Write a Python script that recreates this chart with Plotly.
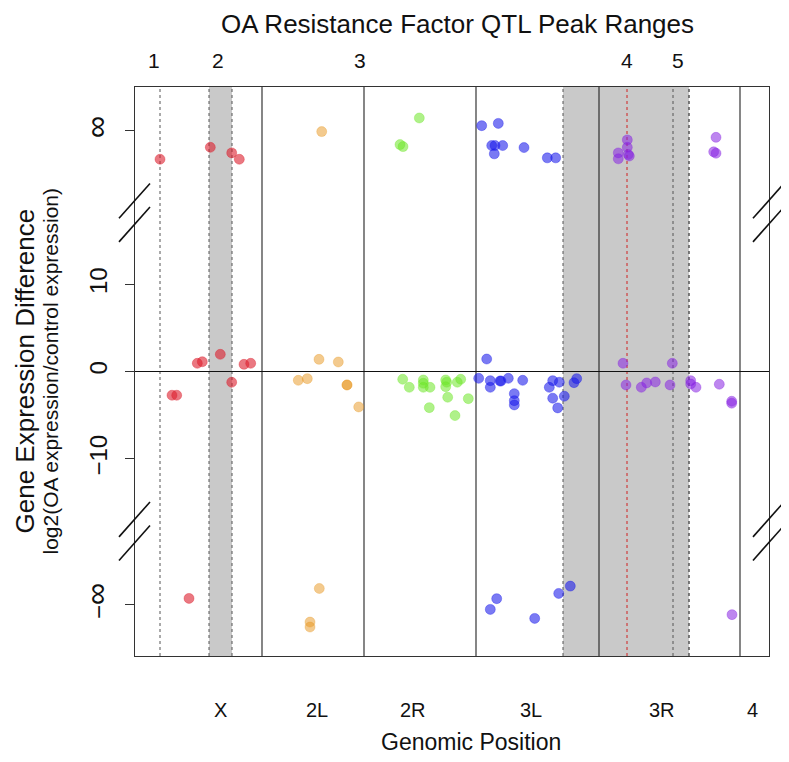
import plotly.graph_objects as go

# ---------------- data (genomic position in cumulative Mb-like units, log2 difference;
# values beyond the axis breaks are infinite values drawn in the "infinity" bands) ----
chrom_names = ["X", "2L", "2R", "3L", "3R", "4"]
chrom_label_pos = [17.0, 36.4, 55.6, 79.2, 105.4, 123.4]
chrom_bounds = [25.4, 45.8, 68.2, 92.8, 121.0]
x_range = [0, 126.8]
y_range = [-32.6, 32.6]
pos_inf = 27.6
neg_inf = -26.7
break_top = 18.2
break_bottom = -18.3
tick_vals = [neg_inf, -10, 0, 10, pos_inf]
tick_text = ["\u2212<span style='font-size:31px'>\u221e</span>", "\u221210", "0", "10",
             "<span style='font-size:31px'>\u221e</span>"]

qtl_labels = ["1", "2", "3", "4", "5"]
qtl_label_pos = [3.8, 16.6, 45.0, 98.4, 108.6]
qtl_lines = [5.0]
qtl_bands = [(14.8, 19.4), (85.6, 110.8), (107.6, 110.8)]
qtl_peak = [98.4]

X_pos = [5.0, 15.06, 19.34, 20.86, 7.4, 8.34, 12.46, 13.46, 17.06, 19.34, 21.8, 23.14, 10.8]
X_val = [24.32, 25.69, 25.05, 24.32, -2.72, -2.72, 0.94, 1.12, 1.97, -1.23, 0.82, 0.94, -26.0]

L2_pos = [37.34, 32.66, 34.46, 36.8, 40.66, 42.4, 42.4, 44.74, 36.86, 35.0, 35.0]
L2_val = [27.49, -1.01, -0.82, 1.39, 1.09, -1.54, -1.54, -4.06, -24.86, -28.71, -29.28]

R2_pos = [53.0, 53.6, 56.86, 53.54, 54.86, 57.66, 57.66, 57.66, 59.0, 58.86, 62.14,
          62.34, 62.14, 62.54, 64.0, 64.46, 65.14, 66.66]
R2_val = [26.0, 25.77, 29.05, -0.89, -1.81, -0.97, -1.35, -1.81, -1.81, -4.14, -0.97,
          -1.23, -1.74, -2.95, -5.05, -1.23, -0.89, -3.11]

L3_pos = [69.34, 72.66, 71.34, 72.0, 73.54, 71.86, 77.8, 82.46, 84.14,
          70.34, 68.74, 71.06, 71.06, 73.0, 73.2, 74.66, 77.54, 75.86, 75.86, 75.86,
          82.86, 83.54, 84.86, 83.54, 84.54, 85.86, 87.8, 88.34,
          72.34, 71.06, 79.94, 84.74, 87.06]
L3_val = [28.17, 28.43, 25.89, 25.89, 25.89, 24.94, 25.66, 24.48, 24.48,
          1.43, -0.78, -1.05, -1.81, -1.09, -1.09, -0.78, -1.01, -2.54, -3.34, -3.83,
          -1.81, -1.05, -1.23, -3.06, -4.17, -2.83, -1.28, -0.82,
          -26.03, -27.26, -28.29, -25.43, -24.59]

R3_pos = [98.46, 98.46, 96.66, 96.66, 98.66, 98.86, 116.2, 115.74, 116.2,
          97.6, 107.46, 98.2, 101.26, 102.34, 104.06, 107.0, 111.14, 111.14, 112.2,
          116.86, 119.34, 119.34, 119.4]
R3_val = [26.54, 25.69, 25.05, 24.37, 24.86, 24.69, 26.83, 25.17, 25.01,
          0.94, 0.94, -1.54, -1.81, -1.31, -1.2, -1.54, -1.05, -1.43, -1.81,
          -1.46, -3.41, -3.63, -27.86]

series = [
    ("X", X_pos, X_val, "rgba(220,30,45,0.6)"),
    ("2L", L2_pos, L2_val, "rgba(232,150,30,0.5)"),
    ("2R", R2_pos, R2_val, "rgba(110,230,40,0.55)"),
    ("3L", L3_pos, L3_val, "rgba(25,25,235,0.58)"),
    ("3R", R3_pos, R3_val, "rgba(135,35,225,0.55)"),
]

FONT = "Liberation Sans, Arial, Helvetica, sans-serif"

fig = go.Figure()
for name, xs, ys, col in series:
    fig.add_trace(go.Scatter(
        x=xs, y=ys, mode="markers", name=name, showlegend=False,
        marker=dict(size=10, color=col, line=dict(width=0.6, color=col)),
    ))

shapes = []
for a, b in qtl_bands:
    shapes.append(dict(type="rect", xref="x", yref="paper", x0=a, x1=b, y0=0, y1=1,
                       fillcolor="#c9c9c9", line=dict(width=0), layer="below"))
dotted = list(qtl_lines)
for a, b in qtl_bands:
    dotted += [a, b]
for xv in dotted:
    shapes.append(dict(type="line", xref="x", yref="paper", x0=xv, x1=xv, y0=0, y1=1,
                       line=dict(color="#555555", width=1, dash="dot"), layer="below"))
for xv in qtl_peak:
    shapes.append(dict(type="line", xref="x", yref="paper", x0=xv, x1=xv, y0=0, y1=1,
                       line=dict(color="#d02020", width=1, dash="dot"), layer="below"))
for xv in chrom_bounds:
    shapes.append(dict(type="line", xref="x", yref="paper", x0=xv, x1=xv, y0=0, y1=1,
                       line=dict(color="#222222", width=1.1), layer="below"))
shapes.append(dict(type="line", xref="paper", yref="y", x0=0, x1=1, y0=0, y1=0,
                   line=dict(color="#111111", width=1.1), layer="below"))
W = 634.0
for ax_px in (0.0, W):
    for c in (break_top, break_bottom):
        for off in (1.35, -1.35):
            shapes.append(dict(type="line", xref="paper", yref="y",
                               x0=(ax_px - 16) / W, x1=(ax_px + 15) / W,
                               y0=c + off - 2.0, y1=c + off + 2.0,
                               line=dict(color="#111111", width=1.6)))

fig.update_layout(shapes=shapes)

annotations = []
for lab, xv in zip(qtl_labels, qtl_label_pos):
    annotations.append(dict(x=xv, y=1.047, xref="x", yref="paper", text=lab,
                            showarrow=False, font=dict(size=21, color="#111"),
                            xanchor="center", yanchor="middle"))
for lab, xv in zip(chrom_names, chrom_label_pos):
    annotations.append(dict(x=xv, y=-0.095, xref="x", yref="paper", text=lab,
                            showarrow=False, font=dict(size=20, color="#111"),
                            xanchor="center", yanchor="middle"))
annotations.append(dict(x=0.53, y=-0.152, xref="paper", yref="paper", text="Genomic Position",
                        showarrow=False, font=dict(size=23, color="#111"),
                        xanchor="center", yanchor="middle"))
annotations.append(dict(x=0.509, y=1 + 79 / 569.0, xref="paper", yref="paper",
                        text="OA Resistance Factor QTL Peak Ranges",
                        showarrow=False, font=dict(size=26, color="#111"),
                        xanchor="center", yanchor="top", borderpad=0))
annotations.append(dict(x=(24 - 135) / 634.0, y=0.5, xref="paper", yref="paper",
                        text="Gene Expression Difference", textangle=-90,
                        showarrow=False, font=dict(size=26, color="#111"),
                        xanchor="center", yanchor="middle", borderpad=0))
annotations.append(dict(x=(50 - 135) / 634.0, y=0.5, xref="paper", yref="paper",
                        text="log2(OA expression/control expression)", textangle=-90,
                        showarrow=False, font=dict(size=21, color="#111"),
                        xanchor="center", yanchor="middle", borderpad=0))

fig.update_layout(
    annotations=annotations,
    width=781, height=754,
    margin=dict(l=127, r=20, t=79, b=106),
    paper_bgcolor="white", plot_bgcolor="white",
    font=dict(family=FONT, color="#111"),
    xaxis=dict(range=x_range, showgrid=False, zeroline=False, showticklabels=False,
               ticks="", showline=True, mirror=True, linecolor="#333333", linewidth=1.3),
    yaxis=dict(range=y_range, showgrid=False, zeroline=False, automargin=False,
               tickmode="array", tickvals=tick_vals, ticktext=tick_text,
               tickangle=-90, ticks="outside", ticklen=9, tickcolor="#333333",
               tickfont=dict(size=24, color="#111"), ticklabelstandoff=8,
               showline=True, mirror=True, linecolor="#333333", linewidth=1.3),
)

fig.write_html("out.html")
